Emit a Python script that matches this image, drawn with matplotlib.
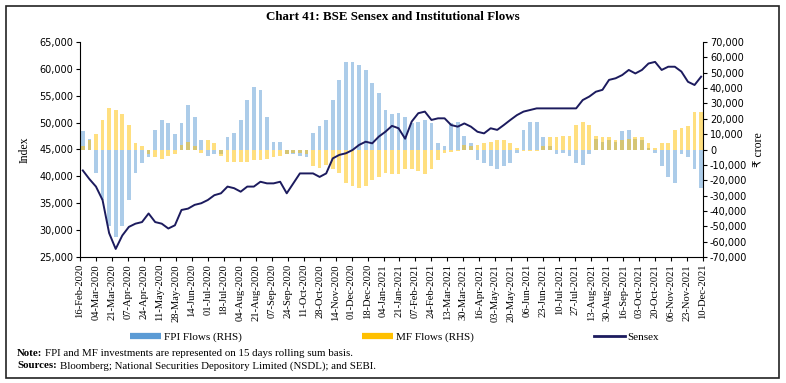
import matplotlib
matplotlib.use("Agg")
import matplotlib.pyplot as plt
import matplotlib.dates as mdates
import pandas as pd
from matplotlib.lines import Line2D
from matplotlib.patches import Rectangle
from matplotlib.ticker import FuncFormatter, MultipleLocator

# weekly readings (Mon 17-Feb-2020 ... Mon 06-Dec-2021), 15-day rolling sums in Rs crore
week_start = pd.date_range("2020-02-17", periods=95, freq="7D")

fpi_flows = [
    12000, 7000, -15000, -33000, -50000, -57000, -50000, -33000, -15000, -9000,
    -5000, 13000, 19000, 17000, 10000, 17000, 29000, 21000, 6000, -4000,
    -3000, -3000, 8000, 11000,
    19000, 32000, 41000, 39000, 21000, 5000, 5000, -3000, -3000, -4000,
    -5000, 11000, 15000, 19000, 32000, 45000, 57000, 57000, 55000, 52000,
    43000, 37000, 26000, 23000,
    24000, 21000, 17000, 18000, 19000, 17000, 4000, 2000, 17000, 18000,
    9000, 4000, -7000, -9000, -11000, -13000, -11000, -9000, -2000, 12700,
    18000, 18000, 8000, 2000,
    -3000, -2000, -4000, -9000, -10000, -3000, 7000, 5000, 6000, 5000,
    12000, 13000, 7000, 6000, 1000, -2000, -11000, -17700, -22000, -3000,
    -5000, -13000, -25000,
]

mf_flows = [
    2000, 6000, 10000, 19000, 27000, 26000, 23000, 16000, 4000, 2000,
    -3000, -5000, -6000, -4000, -3000, 3000, 5000, 2000, -2000, 6000,
    4000, -4000, -8000, -8000,
    -8000, -8000, -7000, -7000, -6000, -5000, -4000, -3000, -2000, -2000,
    -3000, -11000, -12000, -10000, -13000, -15000, -22000, -24000, -25000, -24000,
    -20000, -18000, -15000, -16000,
    -16000, -13000, -13000, -14000, -16000, -13000, -7000, -2000, -1500, -1000,
    3000, 2000, 3000, 4000, 5000, 6000, 6000, 4000, 1000, -1000,
    -1000, -1000, 2000, 8000,
    8000, 9000, 9000, 16000, 18000, 16000, 9000, 8000, 8000, 6000,
    6000, 7000, 8000, 8000, 4000, 1000, 4000, 4000, 12700, 14000,
    15000, 24600, 24600,
]

sensex = [
    41100, 39500, 38100, 35600, 29450, 26500, 29000, 30600, 31200, 31500,
    33100, 31500, 31200, 30300, 30900, 33750, 34000, 34700, 35000, 35600,
    36500, 36850, 38100, 37800,
    37150, 38100, 38100, 39000, 38700, 38700, 39000, 36850, 38700, 40550,
    40550, 40550, 39900, 40550, 43350, 44000, 44300, 44900, 45850, 46450,
    46150, 47400, 48300, 49400,
    48950, 47000, 50200, 51750, 52050, 50500, 50800, 50800, 49550, 49250,
    49850, 49250, 48300, 48000, 48950, 48650, 49550, 50500, 51400, 52050,
    52350, 52650, 52650, 52650,
    52650, 52650, 52650, 52650, 54200, 54850, 55750, 56100, 57950, 58250,
    58850, 59800, 59150, 59800, 61000, 61300, 59800, 60400, 60400, 59500,
    57600, 57000, 58550,
]

x_ticks = pd.date_range("2020-02-16", "2021-12-10", freq="17D")

SERIF = ["Liberation Serif", "DejaVu Serif"]
FPI_COLOR = "#5B9BD5"
MF_COLOR = "#FFC000"
LINE_COLOR = "#1C1B5E"

mid_week = week_start + pd.Timedelta(days=2)

fig = plt.figure(figsize=(7.86, 3.83), dpi=100)
ax = fig.add_axes([80 / 786, 1 - 257 / 383, 623 / 786, 215 / 383])
ax_r = ax.twinx()

# flows behind, sensex line in front
ax_r.set_zorder(0)
ax.set_zorder(1)
ax.patch.set_visible(False)

ax_r.bar(mid_week, fpi_flows, width=4.0, color=FPI_COLOR, alpha=0.5, linewidth=0)
ax_r.bar(mid_week, mf_flows, width=4.0, color=MF_COLOR, alpha=0.5, linewidth=0)
ax.plot(mid_week, sensex, color=LINE_COLOR, linewidth=1.4)

ax.set_xlim(x_ticks[0], x_ticks[-1])
ax.set_ylim(25000, 65000)
ax_r.set_ylim(-70000, 70000)
ax.yaxis.set_major_locator(MultipleLocator(5000))
ax_r.yaxis.set_major_locator(MultipleLocator(10000))
fmt = FuncFormatter(lambda v, p: f"{int(round(v)):,}")
ax.yaxis.set_major_formatter(fmt)
ax_r.yaxis.set_major_formatter(fmt)

ax.set_xticks(x_ticks)
ax.xaxis.set_major_formatter(mdates.DateFormatter("%d-%b-%Y"))
for lbl in ax.get_xticklabels():
    lbl.set_rotation(90)
    lbl.set_family(SERIF)
    lbl.set_fontsize(7.6)

for a in (ax, ax_r):
    a.spines["top"].set_visible(False)
    a.tick_params(direction="out", length=3, width=0.8, labelsize=7, pad=2)
    for s in a.spines.values():
        s.set_linewidth(0.8)
ax.tick_params(axis="x", labelsize=7.6)
ax.spines["right"].set_visible(False)
ax_r.spines["left"].set_visible(False)
ax_r.spines["bottom"].set_visible(False)
for lbl in ax.get_yticklabels() + ax_r.get_yticklabels():
    lbl.set_family("DejaVu Sans")

ax.set_ylabel("Index", family=SERIF, fontsize=8.5, labelpad=6)
ax_r.set_ylabel("\u20b9 crore", family=["Liberation Serif", "DejaVu Sans"], fontsize=8.5, labelpad=4)

fig.text(0.5, 1 - 17 / 383, "Chart 41: BSE Sensex and Institutional Flows",
         ha="center", va="center", family=SERIF, fontsize=9.4, weight="bold")

handles = [
    Line2D([], [], color=FPI_COLOR, linewidth=4.5, solid_capstyle="butt"),
    Line2D([], [], color=MF_COLOR, linewidth=4.5, solid_capstyle="butt"),
    Line2D([], [], color=LINE_COLOR, linewidth=2),
]
fig.legend(handles, ["FPI Flows (RHS)", "MF Flows (RHS)", "Sensex"],
           loc="center left", bbox_to_anchor=(130 / 786, 1 - 337 / 383),
           ncol=3, frameon=False, borderpad=0, borderaxespad=0,
           handlelength=2.8, handletextpad=0.25, columnspacing=10.8,
           prop={"family": SERIF, "size": 8})

# note and sources with bold lead-ins
fig.canvas.draw()
renderer = fig.canvas.get_renderer()
for y_px, head, body in [
    (354, "Note:", "FPI and MF investments are represented on 15 days rolling sum basis."),
    (366, "Sources:", "Bloomberg; National Securities Depository Limited (NSDL); and SEBI."),
]:
    t = fig.text(17 / 786, 1 - y_px / 383, head, ha="left", va="center",
                 family=SERIF, fontsize=7.8, weight="bold")
    bb = t.get_window_extent(renderer)
    fig.text((bb.x1 + 3) / 786, 1 - y_px / 383, body, ha="left", va="center",
             family=SERIF, fontsize=7.8)

fig.patches.append(Rectangle((5.5 / 786, 1 - 378 / 383), 773 / 786, 372.5 / 383,
                             transform=fig.transFigure, fill=False,
                             edgecolor="#222222", linewidth=1.2))

fig.savefig("out.png", dpi=100)
